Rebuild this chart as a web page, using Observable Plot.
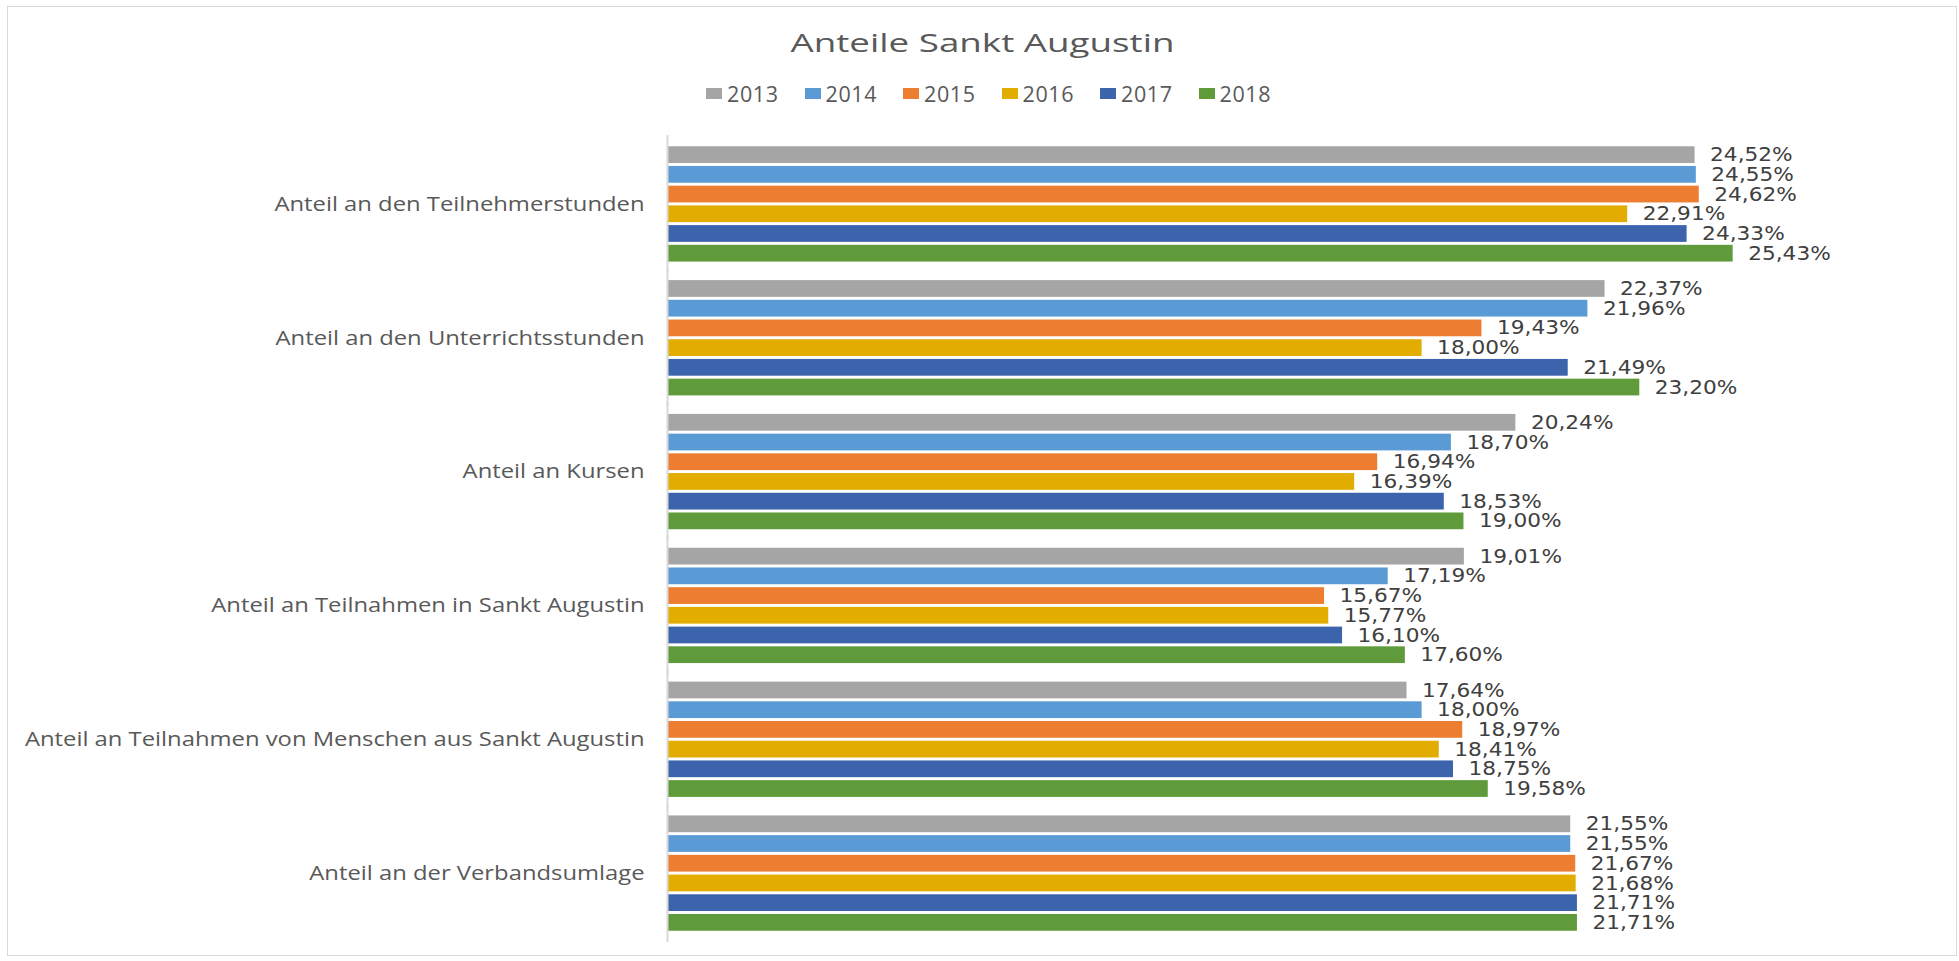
<!DOCTYPE html>
<html>
<head>
<meta charset="utf-8">
<script src="https://cdn.jsdelivr.net/npm/d3@7"></script>
<script src="https://cdn.jsdelivr.net/npm/@observablehq/plot@0.6"></script>
<style>
  html, body { margin: 0; padding: 0; background: #ffffff; }
  #page { position: relative; width: 1959px; height: 961px; overflow: hidden; background: #fff; }
  #frame { position: absolute; left: 7px; top: 6px; width: 1950px; height: 950px; box-sizing: border-box; border: 1px solid #d9d9d9; }
  #title { position: absolute; left: 0; top: 30px; width: 1965px; text-align: center; font-family: "Open Sans", sans-serif; font-size: 25px; line-height: 1; color: #595959; transform: scaleX(1.47); transform-origin: 982.5px 0; white-space: nowrap; }
  #legend { position: absolute; left: 706px; top: 83px; display: flex; font-family: "Open Sans", sans-serif; font-size: 21.5px; line-height: 1; color: #595959; }
  #legend .item { width: 98.5px; display: flex; align-items: center; white-space: nowrap; }
  #legend .sw { width: 16px; height: 11px; margin-right: 5px; display: inline-block; }
  #legend .lb { letter-spacing: 0.6px; }
  #chart { position: absolute; left: 0; top: 120px; }
</style>
</head>
<body>
<div id="page">
  <div id="frame"></div>
  <div id="title">Anteile Sankt Augustin</div>
  <div id="legend"></div>
  <div id="chart"></div>
</div>
<script>
// ---- data ----
const categories = [
  "Anteil an den Teilnehmerstunden",
  "Anteil an den Unterrichtsstunden",
  "Anteil an Kursen",
  "Anteil an Teilnahmen in Sankt Augustin",
  "Anteil an Teilnahmen von Menschen aus Sankt Augustin",
  "Anteil an der Verbandsumlage"
];
const years = ["2013", "2014", "2015", "2016", "2017", "2018"];
const colors = ["#a5a5a5", "#5b9bd5", "#ed7d31", "#e2ac00", "#3b64ad", "#5f9b3a"];
const s2013 = [24.52, 22.37, 20.24, 19.01, 17.64, 21.55];
const s2014 = [24.55, 21.96, 18.70, 17.19, 18.00, 21.55];
const s2015 = [24.62, 19.43, 16.94, 15.67, 18.97, 21.67];
const s2016 = [22.91, 18.00, 16.39, 15.77, 18.41, 21.68];
const s2017 = [24.33, 21.49, 18.53, 16.10, 18.75, 21.71];
const s2018 = [25.43, 23.20, 19.00, 17.60, 19.58, 21.71];
const series = [s2013, s2014, s2015, s2016, s2017, s2018];

const rows = categories.flatMap((c, i) =>
  years.map((y, j) => ({ category: c, year: y, value: series[j][i] }))
);
const fmt = v => d3.format(".2f")(v).replace(".", ",") + "%";

// ---- legend ----
const legend = document.getElementById("legend");
years.forEach((y, j) => {
  const it = document.createElement("div");
  it.className = "item";
  const sw = document.createElement("span");
  sw.className = "sw";
  sw.style.background = colors[j];
  const lb = document.createElement("span");
  lb.className = "lb";
  lb.textContent = y;
  it.appendChild(sw); it.appendChild(lb);
  legend.appendChild(it);
});

// ---- chart ----
const plot = Plot.plot({
  width: 1959,
  height: 841,
  marginLeft: 668,
  marginRight: 35,
  marginTop: 17,
  marginBottom: 21,
  style: { fontFamily: "Open Sans", background: "transparent", overflow: "visible" },
  x: { domain: [0, 30], axis: null },
  y: { domain: years, axis: null, paddingInner: 0.15, paddingOuter: 0.47, align: 0.5, round: false },
  fy: { domain: categories, padding: 0, label: null, round: false },
  color: { domain: years, range: colors },
  marks: [
    Plot.axisFy({ anchor: "left", tickSize: 0, tickPadding: 24, fontSize: 20, label: null, color: "#595959" }),
    Plot.barX(rows, { x: "value", y: "year", fy: "category", fill: "year" }),
    Plot.ruleX([0], { stroke: "#d9d9d9", strokeWidth: 2, dx: -1, insetTop: -2, insetBottom: -2 }),
    Plot.text(rows, {
      x: "value", y: "year", fy: "category", text: d => fmt(d.value),
      dx: 15, textAnchor: "start", lineAnchor: "middle",
      fontSize: 19, fontFamily: "DejaVu Sans", fill: "#404040"
    })
  ]
});
document.getElementById("chart").appendChild(plot);

// horizontal stretch of glyphs to mimic the reference's wide lettering
function stretch(nodes, k) {
  nodes.forEach(t => {
    const L = t.getComputedTextLength();
    t.setAttribute("lengthAdjust", "spacingAndGlyphs");
    t.setAttribute("textLength", (L * k).toFixed(1));
  });
}
stretch(plot.querySelectorAll('g[aria-label="text"] text'), 1.14);
stretch(plot.querySelectorAll('g[aria-label="fy-axis tick label"] text'), 1.19);
</script>
</body>
</html>
